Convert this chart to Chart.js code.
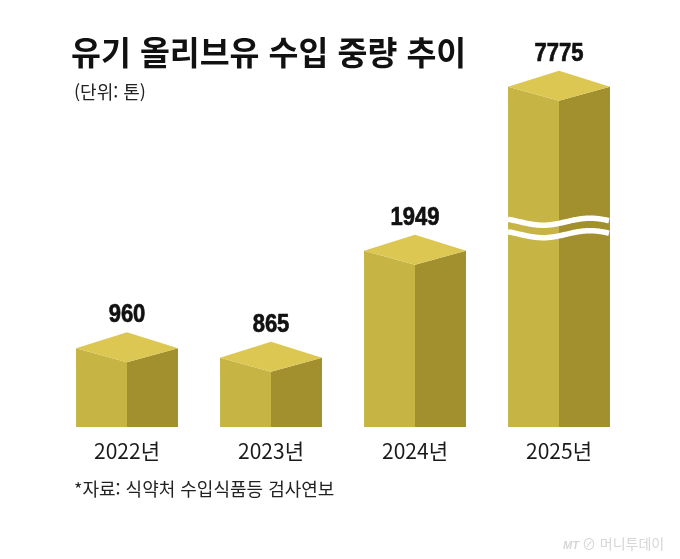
<!DOCTYPE html>
<html lang="ko">
<head>
<meta charset="utf-8">
<script src="https://cdn.jsdelivr.net/npm/chart.js@4.4.1/dist/chart.umd.min.js"></script>
<style>
  body { margin: 0; background: #fff; }
  #wrap { position: relative; width: 680px; height: 559px; overflow: hidden;
          font-family: "Noto Sans CJK KR", "Noto Sans", sans-serif; color: #111; }
  #chart { position: absolute; left: 0; top: 0; }
  .txt { position: absolute; white-space: nowrap; line-height: 1; }
  #title { left: 71px; top: 35px; font-size: 32.5px; font-weight: 700; }
  #unit { left: 74px; top: 82px; font-size: 18px; color: #222; }
  #source { left: 74px; top: 479px; font-size: 18px; color: #222; }
  #logo { left: 563px; top: 536px; font-size: 14px; color: #d6d6d6; }
  #logo i { font-family: "Liberation Sans", sans-serif; font-weight: 700; font-size: 11px; margin-right: 3px; }
</style>
</head>
<body>
<div id="wrap">
  <canvas id="chart" width="680" height="559"></canvas>
  <div class="txt" id="title">유기 올리브유 수입 중량 추이</div>
  <div class="txt" id="unit">(단위: 톤)</div>
  <div class="txt" id="source">*자료: 식약처 수입식품등 검사연보</div>
  <div class="txt" id="logo"><i>MT</i>⊘ 머니투데이</div>
</div>
<script>
const years = ["2022년", "2023년", "2024년", "2025년"];
const imports = [960, 865, 1949, 7775];

// broken y axis: everything between these two values is cut out
const breakFrom = 2020;
const breakTo = 6185;

const shown = imports.map(v => v > breakTo ? v - (breakTo - breakFrom) : v);

const FRONT = "#c6b545";
const SIDE = "#a28f2e";
const TOP = "#dcc752";

function poly(ctx, pts, color) {
  ctx.beginPath();
  ctx.moveTo(pts[0][0], pts[0][1]);
  for (let i = 1; i < pts.length; i++) ctx.lineTo(pts[i][0], pts[i][1]);
  ctx.closePath();
  ctx.fillStyle = color;
  ctx.fill();
}

function wave(ctx, l, r, cy) {
  const period = 94;
  ctx.beginPath();
  for (let x = l; x <= r; x++) {
    const y = cy + 3.5 * Math.cos(2 * Math.PI * (x - l - 35) / period);
    if (x === l) ctx.moveTo(x, y); else ctx.lineTo(x, y);
  }
  ctx.stroke();
}

// draws each bar as a box: front face, side face and top
const box3d = {
  id: "box3d",
  afterDatasetsDraw(chart) {
    const ctx = chart.ctx;
    const yScale = chart.scales.y;
    chart.getDatasetMeta(0).data.forEach((bar, i) => {
      const l = bar.x - bar.width / 2, r = bar.x + bar.width / 2, m = bar.x;
      const t = bar.y, b = bar.base;
      const rim = 16, depth = 30;
      poly(ctx, [[l, t + rim], [m, t + depth], [m, b], [l, b]], FRONT);
      poly(ctx, [[m, t + depth], [r, t + rim], [r, b], [m, b]], SIDE);
      poly(ctx, [[l, t + rim], [m, t], [r, t + rim], [m, t + depth]], TOP);

      if (imports[i] > breakTo) {
        const py = yScale.getPixelForValue(breakFrom);
        ctx.save();
        ctx.strokeStyle = "#fff";
        ctx.lineWidth = 5.5;
        wave(ctx, l, r, py - 6);
        wave(ctx, l, r, py + 6.5);
        ctx.restore();
      }

      ctx.save();
      ctx.fillStyle = "#111";
      ctx.strokeStyle = "#111";
      ctx.lineWidth = 0.7;
      ctx.font = "bold 25px 'Liberation Sans', Arial, sans-serif";
      ctx.textAlign = "center";
      ctx.textBaseline = "middle";
      ctx.translate(m, t - 17);
      ctx.scale(0.88, 1);
      ctx.fillText(imports[i].toString(), 0, 0);
      ctx.strokeText(imports[i].toString(), 0, 0);
      ctx.restore();
    });
  }
};

new Chart(document.getElementById("chart"), {
  type: "bar",
  data: {
    labels: years,
    datasets: [{
      data: shown,
      backgroundColor: "rgba(0,0,0,0)",
      borderWidth: 0,
      barPercentage: 0.708,
      categoryPercentage: 1
    }]
  },
  options: {
    responsive: false,
    animation: false,
    layout: { padding: { left: 55, right: 49, top: 55, bottom: 69 } },
    plugins: { legend: { display: false }, tooltip: { enabled: false } },
    scales: {
      x: {
        grid: { display: false },
        border: { display: false },
        ticks: {
          color: "#1a1a1a",
          padding: 0,
          font: { family: "'Noto Sans CJK KR', sans-serif", size: 21 }
        },
        afterFit(s) { s.height = 60; }
      },
      y: { display: false, min: -30, max: 3770 }
    }
  },
  plugins: [box3d]
});
</script>
</body>
</html>
